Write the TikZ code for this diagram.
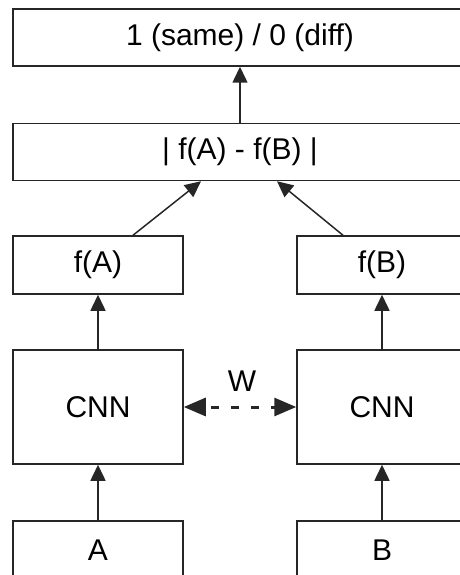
\documentclass[tikz,border=0pt]{standalone}
\usepackage{fontspec}
\setmainfont{Liberation Sans}
\usetikzlibrary{arrows.meta}

\begin{document}
\begin{tikzpicture}[
        x=1pt, y=-1pt,
        box/.style={rectangle, draw=black!85, line width=1.5pt, inner sep=0pt, font=\fontsize{30}{34}\selectfont},
        wide/.style={minimum width=454pt, minimum height=57pt},
        small/.style={minimum width=170pt, minimum height=58pt},
        tall/.style={minimum width=170pt, minimum height=114pt},
        link/.style={line width=1.5pt, draw=black!85, -{Triangle[length=16pt, width=15pt]}},
        tied/.style={line width=3pt, draw=black!85, dash pattern=on 8pt off 12pt, dash phase=-6pt,
            {Triangle[length=22pt, width=18pt]}-{Triangle[length=22pt, width=18pt]}}
    ]

    % Crop to the visible part
    \clip (0,0) rectangle (460,575);

    % Output and distance
    \node[box, wide] (out) at (240, 37.5) {1 (same) / 0 (diff)};
    \node[box, wide] (dist) at (240, 152) {| f(A) - f(B) |};

    % Twin branches
    \node[box, small] (fa) at (98, 265) {f(A)};
    \node[box, small] (fb) at (382, 265) {f(B)};
    \node[box, tall] (cnna) at (98, 407) {CNN};
    \node[box, tall] (cnnb) at (382, 407) {CNN};
    \node[box, small] (ina) at (98, 550) {A};
    \node[box, small] (inb) at (382, 550) {B};

    % Shared weights
    \node[font=\fontsize{30}{34}\selectfont] (w) at (242, 381) {W};
    \draw[tied] (cnna.east) -- (cnnb.west);

    % Forward arrows
    \draw[link] (ina) -- (cnna);
    \draw[link] (inb) -- (cnnb);
    \draw[link] (cnna) -- (fa);
    \draw[link] (cnnb) -- (fb);
    \draw[link] ([xshift=35pt]fa.north) -- ([xshift=-39pt]dist.south);
    \draw[link] ([xshift=-39pt]fb.north) -- ([xshift=37pt]dist.south);
    \draw[link] (dist) -- (out);

\end{tikzpicture}
\end{document}
